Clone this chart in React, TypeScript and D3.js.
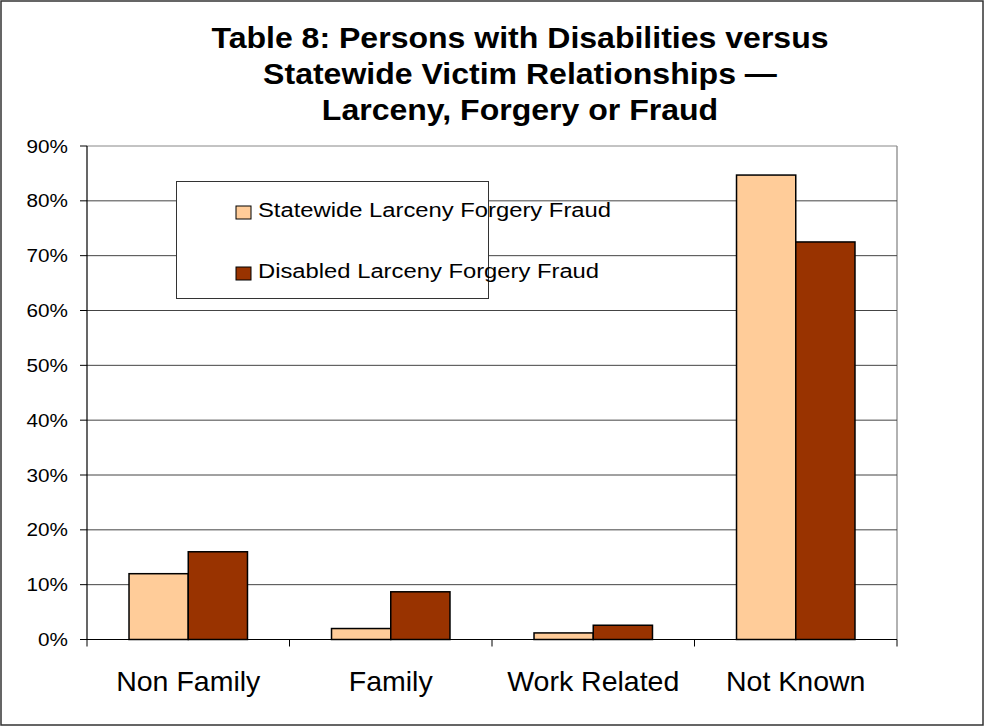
import React from "react";
import * as d3 from "d3";

const categories = ["Non Family", "Family", "Work Related", "Not Known"];
const seriesNames = ["Statewide Larceny Forgery Fraud", "Disabled Larceny Forgery Fraud"];
const statewide = [12.0, 2.0, 1.2, 84.7];
const disabled = [16.0, 8.7, 2.6, 72.5];
const yTicks = [0, 10, 20, 30, 40, 50, 60, 70, 80, 90];
const titleLines = [
  "Table 8: Persons with Disabilities versus",
  "Statewide Victim Relationships \u2014",
  "Larceny, Forgery or Fraud",
];
const colors = ["#FFCC99", "#993300"];

const W = 984;
const H = 728;
const font = "Arial, 'Liberation Sans', sans-serif";

// the source picture is stretched sideways, so text gets a small x scale
const tr = (x: number, y: number, sx: number) => `translate(${x},${y}) scale(${sx},1)`;

export default function App() {
  const left = 87;
  const right = 897;
  const top = 146;
  const bottom = 639.5;

  const x = d3.scaleBand().domain(categories).range([left, right]).paddingInner(0).paddingOuter(0);
  const y = d3.scaleLinear().domain([0, 90]).range([bottom, top]);
  const groupW = x.bandwidth() * 0.585;
  const inner = d3.scaleBand().domain(["0", "1"]).range([0, groupW]);

  const series = [statewide, disabled];

  return (
    <svg
      width={W}
      height={H}
      style={{ position: "absolute", left: 0, top: 0, background: "#fff" }}
      fontFamily={font}
    >
      <rect x={1} y={1} width={W - 2} height={H - 4} fill="#fff" stroke="#333" strokeWidth={1.5} />

      {titleLines.map((t, i) => (
        <text key={i} transform={tr(520, 47.5 + i * 36, 1.105)} textAnchor="middle" fontSize={29} fontWeight="bold">
          {t}
        </text>
      ))}

      {/* plot area border */}
      <line x1={right} x2={right} y1={top} y2={bottom} stroke="#999" strokeWidth={1.5} />

      {/* gridlines + y ticks */}
      {yTicks.map((t) => (
        <g key={t}>
          <line x1={left} x2={right} y1={y(t)} y2={y(t)} stroke={t === 90 ? "#888" : "#444"} strokeWidth={1} />
          <line x1={80} x2={left} y1={y(t)} y2={y(t)} stroke="#000" strokeWidth={1} />
          <text transform={tr(68, y(t) + 6.5, 1.12)} textAnchor="end" fontSize={18.5}>
            {t}%
          </text>
        </g>
      ))}

      {/* bars */}
      {categories.map((c, ci) =>
        series.map((s, si) => {
          const bx = (x(c) as number) + (x.bandwidth() - groupW) / 2 + (inner(String(si)) as number);
          return (
            <rect
              key={c + si}
              x={bx}
              y={y(s[ci])}
              width={inner.bandwidth()}
              height={bottom - y(s[ci])}
              fill={colors[si]}
              stroke="#000"
              strokeWidth={1.5}
            />
          );
        })
      )}

      {/* axes */}
      <line x1={left} x2={left} y1={top} y2={bottom} stroke="#000" strokeWidth={1.2} />
      <line x1={left} x2={right} y1={bottom} y2={bottom} stroke="#000" strokeWidth={1.2} />
      {[...categories.map((c) => x(c) as number), right].map((tx, i) => (
        <line key={i} x1={tx} x2={tx} y1={bottom} y2={bottom + 7} stroke="#000" strokeWidth={1} />
      ))}
      {categories.map((c) => (
        <text
          key={c}
          x={(x(c) as number) + x.bandwidth() / 2}
          y={691}
          textAnchor="middle"
          fontSize={28.5}
        >
          {c}
        </text>
      ))}

      {/* legend */}
      <rect x={176.5} y={181.5} width={312} height={117} fill="#fff" stroke="#333" strokeWidth={1} />
      {seriesNames.map((n, i) => (
        <g key={n}>
          <rect x={236} y={206 + i * 61} width={15} height={13} fill={colors[i]} stroke="#000" strokeWidth={1} />
          <text transform={tr(258, 216.5 + i * 61, 1.19)} fontSize={20}>
            {n}
          </text>
        </g>
      ))}
    </svg>
  );
}
